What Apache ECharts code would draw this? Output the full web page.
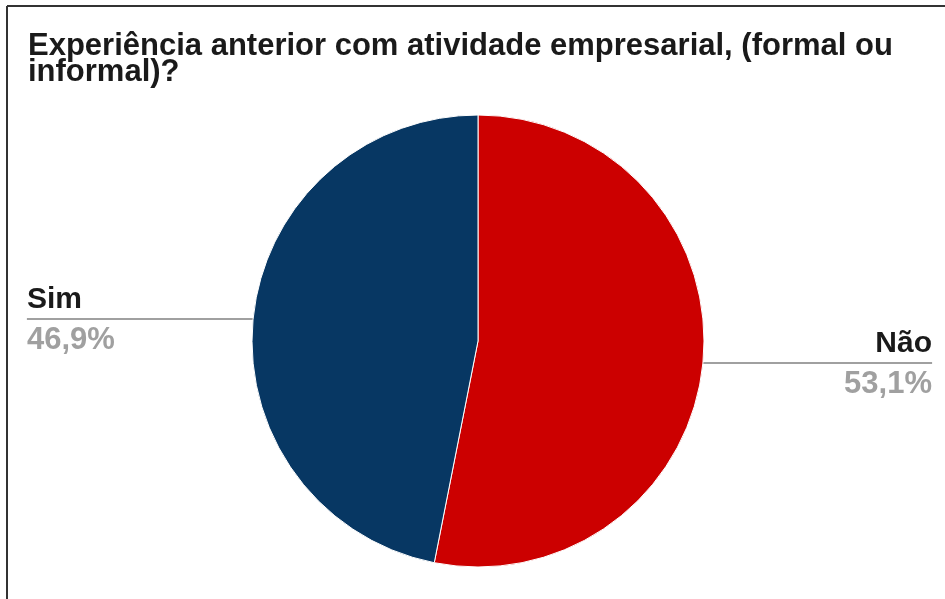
<!DOCTYPE html>
<html><head><meta charset="utf-8">
<script src="https://cdn.jsdelivr.net/npm/echarts@6/dist/echarts.min.js"></script>
<style>html,body{margin:0;padding:0;background:#fff}#c{width:945px;height:599px}</style>
</head><body><div id="c"></div>
<script>
const titleText = 'Experiência anterior com atividade empresarial, (formal ou\ninformal)?';
const categories = ['Não', 'Sim'];
const values = [53.1, 46.9];
const colors = ['#cc0000', '#073763'];

const chart = echarts.init(document.getElementById('c'), null, {renderer: 'canvas'});
const FONT = '"Liberation Sans", Arial, sans-serif';
chart.setOption({
  animation: false,
  backgroundColor: '#ffffff',
  title: {
    text: titleText,
    left: 28, top: 33, padding: 0,
    textStyle: {fontFamily: FONT, fontWeight: 'bold', fontSize: 31, color: '#1a1a1a', lineHeight: 26}
  },
  graphic: [
    {type: 'line', shape: {x1: 7, y1: 6, x2: 945, y2: 6}, style: {stroke: '#333', lineWidth: 2}},
    {type: 'line', shape: {x1: 7, y1: 6, x2: 7, y2: 599}, style: {stroke: '#333', lineWidth: 2}}
  ],
  series: [{
    type: 'pie',
    left: 27, width: 905, top: 0, height: 599,
    center: [451, 341],
    radius: 226,
    startAngle: 90,
    clockwise: true,
    data: categories.map((c, i) => ({name: c, value: values[i], itemStyle: {color: colors[i]}})),
    itemStyle: {borderColor: '#fff', borderWidth: 1},
    label: {
      alignTo: 'edge',
      edgeDistance: 0,
      distanceToLabelLine: -88,
      formatter: p => '{n|' + p.name + '}\n{v|' + p.value.toFixed(1).replace('.', ',') + '%}',
      rich: {
        n: {fontFamily: FONT, fontWeight: 'bold', fontSize: 30, color: '#1a1a1a', lineHeight: 42},
        v: {fontFamily: FONT, fontWeight: 'bold', fontSize: 31, color: '#a0a0a0', lineHeight: 38}
      }
    },
    labelLine: {show: true, length: 0, length2: 10, lineStyle: {color: '#a0a0a0', width: 2}}
  }]
});
</script></body></html>
